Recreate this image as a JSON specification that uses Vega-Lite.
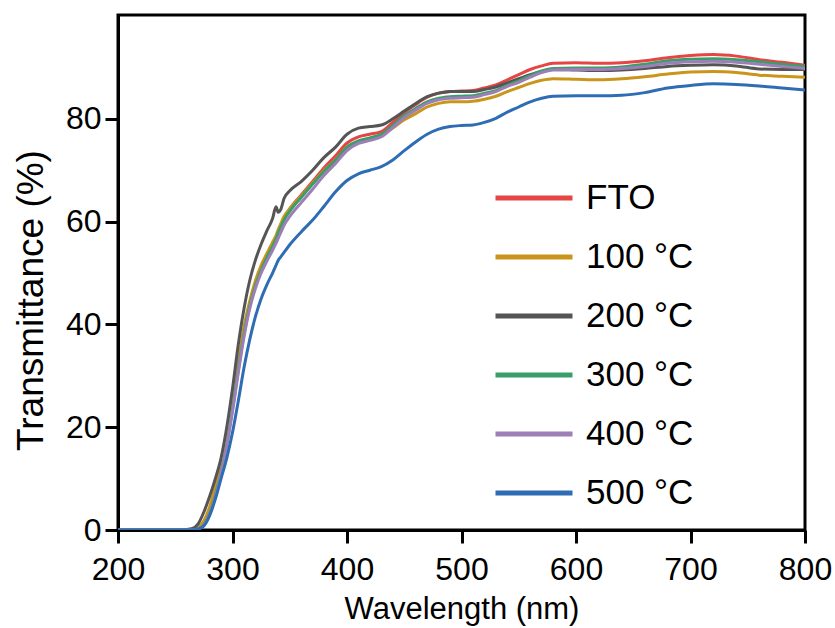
{
  "$schema": "https://vega.github.io/schema/vega-lite/v6.json",
  "width": 687,
  "height": 515,
  "autosize": {"type": "none"},
  "padding": {"left": 118, "top": 15, "right": 30, "bottom": 98},
  "background": "white",
  "config": {
    "view": {"stroke": "black", "strokeWidth": 3},
    "axis": {
      "domainColor": "black", "domainWidth": 3,
      "tickColor": "black", "tickWidth": 3, "tickSize": 13,
      "labelColor": "black", "titleColor": "black",
      "grid": false
    }
  },
  "data": {"values": [
    {"w":200,"FTO":0,"100 °C":0,"200 °C":0,"300 °C":0,"400 °C":0,"500 °C":0},
    {"w":250,"FTO":0,"100 °C":0,"200 °C":0,"300 °C":0,"400 °C":0,"500 °C":0},
    {"w":260,"FTO":0,"100 °C":0,"200 °C":0.1,"300 °C":0,"400 °C":0,"500 °C":0},
    {"w":265,"FTO":0.1,"100 °C":0.1,"200 °C":0.3,"300 °C":0,"400 °C":0,"500 °C":0},
    {"w":270,"FTO":0.3,"100 °C":0.5,"200 °C":1.2,"300 °C":0.2,"400 °C":0.2,"500 °C":0.2},
    {"w":275,"FTO":1.3,"100 °C":1.8,"200 °C":3.5,"300 °C":1,"400 °C":1,"500 °C":0.8},
    {"w":280,"FTO":3.8,"100 °C":4.5,"200 °C":6.5,"300 °C":3.2,"400 °C":3,"500 °C":2.8},
    {"w":285,"FTO":7.5,"100 °C":8.5,"200 °C":10,"300 °C":6.8,"400 °C":6.5,"500 °C":6},
    {"w":290,"FTO":12,"100 °C":13,"200 °C":14,"300 °C":11.2,"400 °C":11,"500 °C":10},
    {"w":295,"FTO":17.5,"100 °C":18.5,"200 °C":20,"300 °C":16.7,"400 °C":16.5,"500 °C":14},
    {"w":300,"FTO":24,"100 °C":25,"200 °C":27.5,"300 °C":23.5,"400 °C":23,"500 °C":19},
    {"w":305,"FTO":31.5,"100 °C":32.5,"200 °C":36,"300 °C":31,"400 °C":30.5,"500 °C":25},
    {"w":310,"FTO":38.5,"100 °C":39.5,"200 °C":43,"300 °C":38,"400 °C":37.5,"500 °C":31.5},
    {"w":315,"FTO":44,"100 °C":44.5,"200 °C":48.5,"300 °C":43.5,"400 °C":43,"500 °C":37},
    {"w":320,"FTO":48,"100 °C":48.5,"200 °C":52.5,"300 °C":47.5,"400 °C":47,"500 °C":41.5},
    {"w":325,"FTO":51,"100 °C":51.5,"200 °C":55.6,"300 °C":50.5,"400 °C":50,"500 °C":45},
    {"w":330,"FTO":53.5,"100 °C":53.8,"200 °C":58.2,"300 °C":53,"400 °C":52.3,"500 °C":47.7},
    {"w":335,"FTO":55.7,"100 °C":56,"200 °C":60.6,"300 °C":55.2,"400 °C":54.4,"500 °C":50},
    {"w":338,"FTO":56.9,"100 °C":57.3,"200 °C":62.9,"300 °C":56.6,"400 °C":55.8,"500 °C":51.5},
    {"w":340,"FTO":58,"100 °C":58.5,"200 °C":61.8,"300 °C":57.8,"400 °C":56.8,"500 °C":52.5},
    {"w":342,"FTO":59,"100 °C":59.5,"200 °C":62.3,"300 °C":58.8,"400 °C":57.8,"500 °C":53.1},
    {"w":345,"FTO":60.5,"100 °C":61,"200 °C":64.5,"300 °C":60.3,"400 °C":59.3,"500 °C":54},
    {"w":350,"FTO":62.5,"100 °C":62.5,"200 °C":66,"300 °C":62,"400 °C":61,"500 °C":55.5},
    {"w":360,"FTO":65.2,"100 °C":65,"200 °C":67.8,"300 °C":64.7,"400 °C":63.7,"500 °C":58},
    {"w":370,"FTO":67.8,"100 °C":67.5,"200 °C":70,"300 °C":67.3,"400 °C":66.3,"500 °C":60.3},
    {"w":380,"FTO":70.5,"100 °C":70,"200 °C":72.5,"300 °C":69.8,"400 °C":69,"500 °C":63},
    {"w":390,"FTO":72.8,"100 °C":72,"200 °C":74.5,"300 °C":72,"400 °C":71.3,"500 °C":65.8},
    {"w":400,"FTO":75.3,"100 °C":74.5,"200 °C":77,"300 °C":74.5,"400 °C":73.8,"500 °C":68},
    {"w":410,"FTO":76.5,"100 °C":75.5,"200 °C":78.2,"300 °C":75.7,"400 °C":75.2,"500 °C":69.3},
    {"w":420,"FTO":77,"100 °C":76,"200 °C":78.5,"300 °C":76.3,"400 °C":75.8,"500 °C":70},
    {"w":430,"FTO":77.5,"100 °C":76.8,"200 °C":78.8,"300 °C":77,"400 °C":76.5,"500 °C":70.7},
    {"w":440,"FTO":79.3,"100 °C":78.2,"200 °C":80,"300 °C":78.7,"400 °C":78.3,"500 °C":72},
    {"w":450,"FTO":81.2,"100 °C":79.8,"200 °C":81.5,"300 °C":80.6,"400 °C":80.2,"500 °C":73.8},
    {"w":460,"FTO":82.8,"100 °C":81,"200 °C":83,"300 °C":82,"400 °C":81.7,"500 °C":75.5},
    {"w":470,"FTO":84.2,"100 °C":82.3,"200 °C":84.3,"300 °C":83.3,"400 °C":83,"500 °C":77},
    {"w":480,"FTO":85,"100 °C":83,"200 °C":85,"300 °C":84,"400 °C":83.7,"500 °C":78},
    {"w":490,"FTO":85.3,"100 °C":83.3,"200 °C":85.3,"300 °C":84.3,"400 °C":84,"500 °C":78.5},
    {"w":500,"FTO":85.4,"100 °C":83.3,"200 °C":85.3,"300 °C":84.4,"400 °C":84.1,"500 °C":78.7},
    {"w":510,"FTO":85.5,"100 °C":83.4,"200 °C":85.3,"300 °C":84.5,"400 °C":84.2,"500 °C":78.8},
    {"w":520,"FTO":86,"100 °C":83.8,"200 °C":85.7,"300 °C":85,"400 °C":84.7,"500 °C":79.3},
    {"w":530,"FTO":86.6,"100 °C":84.4,"200 °C":86.2,"300 °C":85.5,"400 °C":85.3,"500 °C":80.1},
    {"w":540,"FTO":87.6,"100 °C":85.3,"200 °C":87,"300 °C":86.5,"400 °C":86.3,"500 °C":81.3},
    {"w":550,"FTO":88.6,"100 °C":86.1,"200 °C":87.8,"300 °C":87.4,"400 °C":87.1,"500 °C":82.3},
    {"w":560,"FTO":89.6,"100 °C":86.9,"200 °C":88.6,"300 °C":88.4,"400 °C":88.1,"500 °C":83.3},
    {"w":570,"FTO":90.3,"100 °C":87.5,"200 °C":89.2,"300 °C":89.3,"400 °C":89,"500 °C":84},
    {"w":580,"FTO":90.8,"100 °C":87.8,"200 °C":89.6,"300 °C":89.8,"400 °C":89.5,"500 °C":84.4},
    {"w":600,"FTO":90.9,"100 °C":87.7,"200 °C":89.5,"300 °C":89.9,"400 °C":89.6,"500 °C":84.5},
    {"w":620,"FTO":90.8,"100 °C":87.6,"200 °C":89.4,"300 °C":89.9,"400 °C":89.6,"500 °C":84.5},
    {"w":640,"FTO":90.9,"100 °C":87.8,"200 °C":89.5,"300 °C":90.1,"400 °C":89.8,"500 °C":84.6},
    {"w":660,"FTO":91.3,"100 °C":88.2,"200 °C":89.8,"300 °C":90.6,"400 °C":90.2,"500 °C":85.1},
    {"w":680,"FTO":91.9,"100 °C":88.7,"200 °C":90.2,"300 °C":91.3,"400 °C":90.8,"500 °C":86},
    {"w":700,"FTO":92.3,"100 °C":89.1,"200 °C":90.4,"300 °C":91.6,"400 °C":91.1,"500 °C":86.5},
    {"w":720,"FTO":92.5,"100 °C":89.2,"200 °C":90.5,"300 °C":91.7,"400 °C":91.2,"500 °C":86.8},
    {"w":740,"FTO":92.2,"100 °C":89,"200 °C":90.3,"300 °C":91.5,"400 °C":91,"500 °C":86.7},
    {"w":760,"FTO":91.5,"100 °C":88.5,"200 °C":89.7,"300 °C":91.1,"400 °C":90.6,"500 °C":86.4},
    {"w":780,"FTO":91,"100 °C":88.3,"200 °C":89.6,"300 °C":90.6,"400 °C":90.2,"500 °C":86},
    {"w":800,"FTO":90.4,"100 °C":88.1,"200 °C":89.6,"300 °C":90.2,"400 °C":89.8,"500 °C":85.6}
  ]},
  "transform": [
    {"fold": ["FTO", "100 °C", "200 °C", "300 °C", "400 °C", "500 °C"], "as": ["s", "t"]}
  ],
  "mark": {"type": "line", "strokeWidth": 3, "interpolate": "monotone", "clip": true},
  "encoding": {
    "x": {
      "field": "w", "type": "quantitative",
      "scale": {"domain": [200, 800], "nice": false, "zero": false},
      "axis": {
        "values": [200, 300, 400, 500, 600, 700, 800],
        "title": "Wavelength (nm)",
        "labelFont": "Liberation Sans", "labelFontSize": 32,
        "labelBaseline": "alphabetic", "labelPadding": 36, "labelFlush": false,
        "titleFont": "Liberation Sans", "titleFontSize": 31, "titleFontWeight": "normal",
        "titleBaseline": "alphabetic", "titleY": 88
      }
    },
    "y": {
      "field": "t", "type": "quantitative",
      "scale": {"domain": [0, 100.2], "nice": false},
      "axis": {
        "values": [0, 20, 40, 60, 80],
        "title": "Transmittance (%)",
        "labelFont": "Liberation Sans", "labelFontSize": 32,
        "labelPadding": 4, "labelFlush": false,
        "titleFont": "Liberation Sans", "titleFontSize": 37, "titleFontWeight": "normal",
        "titleX": -68, "titleY": 285, "titleBaseline": "bottom"
      }
    },
    "color": {
      "field": "s", "type": "nominal",
      "sort": ["FTO", "100 °C", "200 °C", "300 °C", "400 °C", "500 °C"],
      "scale": {
        "domain": ["FTO", "100 °C", "200 °C", "300 °C", "400 °C", "500 °C"],
        "range": ["#e64545", "#c9961b", "#555555", "#3a9e68", "#9d7fb8", "#2e6db4"]
      },
      "legend": {
        "orient": "none", "legendX": 375, "legendY": 142,
        "title": null,
        "symbolType": "stroke", "symbolSize": 5929, "symbolStrokeWidth": 5,
        "labelFont": "Liberation Sans", "labelFontSize": 35, "labelColor": "black",
        "labelOffset": 11, "rowPadding": -4.6, "labelLimit": 300
      }
    }
  }
}
